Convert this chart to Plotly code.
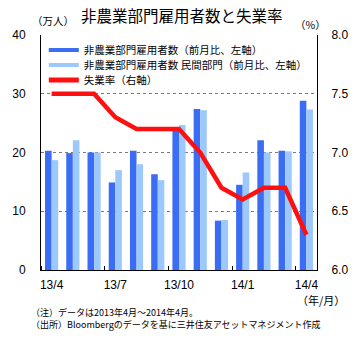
import plotly.graph_objects as go

# Monthly data, 2013/4 - 2014/4
months = ["13/4", "13/5", "13/6", "13/7", "13/8", "13/9", "13/10",
          "13/11", "13/12", "14/1", "14/2", "14/3", "14/4"]
payrolls_total = [20.3, 19.9, 20.0, 14.9, 20.3, 16.3, 23.8,
                  27.4, 8.4, 14.5, 22.1, 20.3, 28.8]          # 万人, m/m
payrolls_private = [18.7, 22.1, 20.0, 17.0, 18.0, 15.3, 24.7,
                    27.2, 8.5, 16.6, 20.0, 20.2, 27.3]        # 万人, m/m
unemployment = [7.5, 7.5, 7.5, 7.3, 7.2, 7.2, 7.2,
                7.0, 6.7, 6.6, 6.7, 6.7, 6.3]                 # %
label_months = ["13/4", "13/7", "13/10", "14/1", "14/4"]

name_total = "非農業部門雇用者数（前月比、左軸）"
name_private = "非農業部門雇用者数 民間部門（前月比、左軸）"
name_rate = "失業率（右軸）"

DARK = "#3a6cf4"
LIGHT = "#9cc8fb"
RED = "#ff1010"
FONT = "Liberation Sans, Noto Sans CJK JP, sans-serif"
JP = "Noto Sans CJK JP, sans-serif"

W, H = 360, 344
pl, pr, pt, pb = 29, 36, 35, 74
pw, ph = W - pl - pr, H - pt - pb


def px_x(px):
    return (px - pl) / pw


def px_y(py):
    return (H - pb - py) / ph


xs = list(range(len(months)))

fig = go.Figure()
fig.add_trace(go.Bar(x=xs, y=payrolls_total, marker=dict(color=DARK, line_width=0),
                     showlegend=False, name=name_total))
fig.add_trace(go.Bar(x=xs, y=payrolls_private, marker=dict(color=LIGHT, line_width=0),
                     showlegend=False, name=name_private))
fig.add_trace(go.Scatter(x=xs, y=unemployment, yaxis="y2", mode="lines",
                         line=dict(color=RED, width=4.5), showlegend=False,
                         name=name_rate))

# legend entries drawn as thick line swatches, one compact legend per row
legend_rows = [(name_total, DARK, 4, "legend"),
               (name_private, LIGHT, 4, "legend2"),
               (name_rate, RED, 5, "legend3")]
for nm, col, w, lg in legend_rows:
    fig.add_trace(go.Scatter(x=[None], y=[None], mode="lines", name=nm,
                             line=dict(color=col, width=w), legend=lg))

legend_style = dict(x=px_x(32), xanchor="left", yanchor="top",
                    bgcolor="rgba(255,255,255,0)", borderwidth=0,
                    font=dict(family=JP, size=10.5), itemwidth=30)

tick_pos = [months.index(m) for m in label_months]

fig.update_layout(
    width=W, height=H,
    margin=dict(l=pl, r=pr, t=pt, b=pb),
    paper_bgcolor="white", plot_bgcolor="white",
    font=dict(family=FONT, size=12, color="black"),
    barmode="group", bargap=0.38, bargroupgap=0,
    showlegend=True,
    legend=dict(y=px_y(35.5), **legend_style),
    legend2=dict(y=px_y(50.5), **legend_style),
    legend3=dict(y=px_y(65.5), **legend_style),
    xaxis=dict(range=[-0.5, 12.5], tickvals=tick_pos, ticktext=label_months,
               showgrid=False, zeroline=False, showline=True, linecolor="black",
               linewidth=1, ticks="", ticklabelstandoff=4, tickfont=dict(size=12),
               minor=dict(tickvals=[-0.5, 2.5, 5.5, 8.5, 11.5, 12.5],
                          ticks="inside", ticklen=4, tickcolor="black",
                          showgrid=False)),
    yaxis=dict(range=[0, 40], dtick=10, showgrid=True, gridcolor="#7a7a7a",
               griddash="3px,3px", gridwidth=1, zeroline=False, showline=True,
               linecolor="black", linewidth=1, ticks="", ticklabelstandoff=12,
               tickfont=dict(size=12)),
    yaxis2=dict(range=[6.0, 8.0], dtick=0.5, tickformat=".1f", overlaying="y",
                side="right", showgrid=False, zeroline=False, showline=True,
                linecolor="black", linewidth=1, ticks="", ticklabelstandoff=11,
                tickfont=dict(size=12)),
)

texts = [
    ("非農業部門雇用者数と失業率", 180, 15.5, "center", 15.5),
    ("（万人）", 42, 20, "center", 10.5),
    ("（%）", 317, 25, "center", 10.5),
    ("（年/月）", 328, 300, "center", 11),
    ("（注）データは2013年4月～2014年4月。<br>"
     "（出所）Bloombergのデータを基に三井住友アセットマネジメント作成", 16, 318.5, "left", 9),
]
for txt, x, y, xa, size in texts:
    fig.add_annotation(text=txt, x=px_x(x), y=px_y(y), xref="paper", yref="paper",
                       xanchor=xa, yanchor="middle", align="left", showarrow=False,
                       font=dict(family=JP, size=size))

fig.write_html("out.html")
